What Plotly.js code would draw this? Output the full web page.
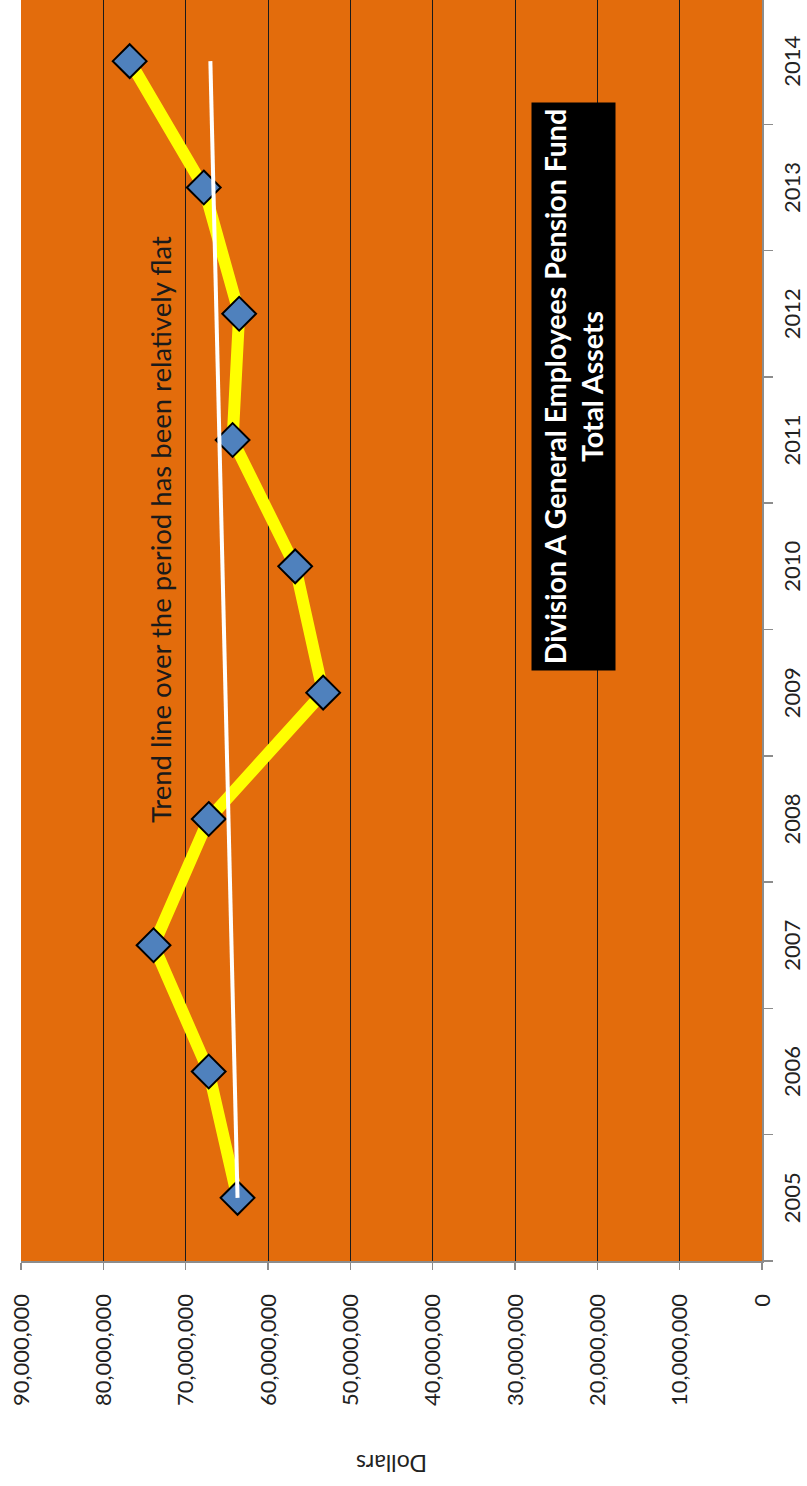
<!DOCTYPE html>
<html>
<head>
<meta charset="utf-8">
<script src="https://cdn.plot.ly/plotly-3.0.1.min.js"></script>
<style>
  html, body { margin: 0; padding: 0; background: #ffffff; overflow: hidden; width: 807px; height: 1486px; }
  /* The chart is laid out landscape and turned a quarter-turn counter-clockwise */
  #wrap {
    position: absolute; left: 0; top: 0;
    width: 1488px; height: 807px;
    transform-origin: 0 0;
    transform: translateY(1486px) rotate(-90deg);
  }
  #chart { width: 1488px; height: 807px; }
</style>
</head>
<body>
<div id="wrap"><div id="chart"></div></div>
<script>
// Fiscal years on the category axis
const years = ['2005', '2006', '2007', '2008', '2009', '2010', '2011', '2012', '2013', '2014'];

// Total assets of the fund at each year end (dollars)
const totalAssets = [63.7e6, 67.2e6, 73.9e6, 67.2e6, 53.3e6, 56.7e6, 64.3e6, 63.5e6, 67.8e6, 76.8e6];

// Straight trend line, start and end of the period
const trendYears = ['2005', '2014'];
const trendValues = [63.7e6, 67.0e6];

// Value axis ticks
const valueTicks = [0, 10e6, 20e6, 30e6, 40e6, 50e6, 60e6, 70e6, 80e6, 90e6];

const FONT = 'Lato, "Open Sans", "Liberation Sans", sans-serif';

const assetsTrace = {
  type: 'scatter',
  mode: 'lines+markers',
  x: years,
  y: totalAssets,
  line: { color: '#FFFF00', width: 12 },
  marker: { symbol: 'diamond', size: 26, color: '#4F81BD', line: { color: '#000000', width: 2 } },
  hoverinfo: 'skip'
};

const trendTrace = {
  type: 'scatter',
  mode: 'lines',
  x: trendYears,
  y: trendValues,
  line: { color: '#FFFFFF', width: 4 },
  hoverinfo: 'skip'
};

const layout = {
  width: 1488,
  height: 807,
  margin: { l: 225, r: 0, t: 21, b: 45, pad: 0 },
  paper_bgcolor: '#FFFFFF',
  plot_bgcolor: '#E36C0C',
  showlegend: false,
  font: { family: FONT, color: '#222222', size: 22 },
  xaxis: {
    type: 'category',
    categoryorder: 'array',
    categoryarray: years,
    range: [-0.5, 9.5],
    showgrid: false,
    zeroline: false,
    showline: true,
    linecolor: '#8C8C8C',
    linewidth: 1.5,
    ticks: 'outside',
    tickson: 'boundaries',
    ticklen: 9,
    tickcolor: '#8C8C8C',
    tickwidth: 1.5,
    ticklabelstandoff: 10,
    tickfont: { family: FONT, size: 22, color: '#222222' }
  },
  yaxis: {
    range: [0, 90e6],
    tickvals: valueTicks,
    tickformat: ',d',
    showgrid: true,
    gridcolor: '#1A1A1A',
    gridwidth: 1,
    zeroline: false,
    showline: true,
    linecolor: '#8C8C8C',
    linewidth: 1.5,
    ticks: 'outside',
    ticklen: 7,
    tickcolor: '#8C8C8C',
    tickwidth: 1.5,
    ticklabelstandoff: 20,
    tickfont: { family: FONT, size: 22, color: '#222222' },
    title: { text: 'Dollars', font: { family: FONT, size: 23, color: '#222222' }, standoff: 42 }
  },
  annotations: [
    {
      xref: 'paper', yref: 'paper',
      x: 0.579, y: 0.812,
      xanchor: 'center', yanchor: 'middle',
      showarrow: false,
      text: 'Trend line over the period has been relatively flat',
      font: { family: FONT, size: 27.5, color: '#1A1A1A' }
    },
    {
      xref: 'paper', yref: 'paper',
      x: 0.6924, y: 0.2544,
      xanchor: 'center', yanchor: 'middle',
      showarrow: false,
      text: '<b>Division A General Employees Pension Fund</b><br><b>Total Assets</b>',
      font: { family: FONT, size: 28.5, color: '#FFFFFF' },
      bgcolor: '#000000',
      borderpad: 2,
      width: 563,
      height: 79
    }
  ]
};

Plotly.newPlot('chart', [assetsTrace, trendTrace], layout, { displayModeBar: false, staticPlot: true });
</script>
</body>
</html>
